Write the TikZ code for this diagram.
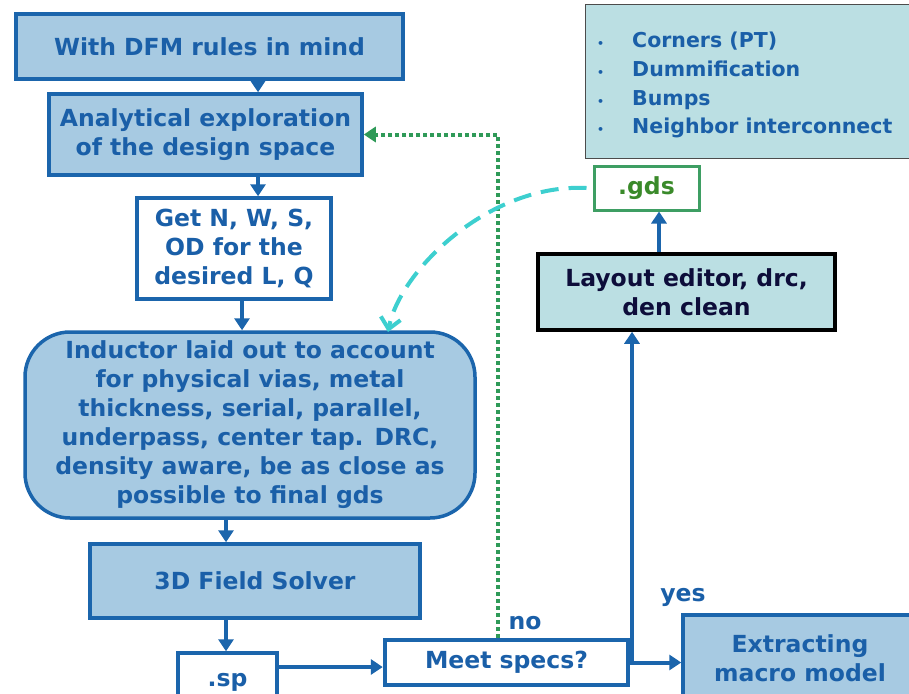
\documentclass[tikz,border=0pt]{standalone}
\usepackage{fontspec}
\setmainfont{DejaVu Sans}
\usetikzlibrary{arrows.meta,calc}
\definecolor{fillblue}{HTML}{A7CAE2}
\definecolor{lineblue}{HTML}{1B65AC}
\definecolor{textblue}{HTML}{1A5FA8}
\definecolor{cyanfill}{HTML}{BBDFE3}
\definecolor{gdsgreen}{HTML}{3A8A2A}
\definecolor{gdsborder}{HTML}{3E9E63}
\definecolor{dotgreen}{HTML}{2F9A58}
\definecolor{dashcyan}{HTML}{3DCFCF}
\definecolor{navy}{HTML}{0D0D3A}
\tikzset{
  txt/.style={font=\fontsize{23.5}{29}\selectfont\bfseries, text=textblue, align=center, inner sep=0pt},
  bluebox/.style={txt, draw=lineblue, line width=3.5pt, fill=fillblue},
  whitebox/.style={txt, draw=lineblue, line width=3.5pt, fill=white},
  arr/.style={draw=lineblue, line width=4pt, -{Triangle[width=15pt,length=12pt]}},
}
\begin{document}
\begin{tikzpicture}[x=1pt,y=-1pt]
\clip (0,0) rectangle (909,693);
\fill[white] (0,0) rectangle (909,693);
% nodes
\node[bluebox, minimum width=387pt, minimum height=65pt] (box1) at (209.5,46.5) {With DFM rules in mind};
\node[bluebox, minimum width=313pt, minimum height=81pt] (box2) at (205.5,134.5) {Analytical exploration\\of the design space};
\node[whitebox, minimum width=194pt, minimum height=101pt] (box3) at (234,248.5) {Get N, W, S,\\OD for the\\desired L, Q};
\node[bluebox, rounded corners=45pt, minimum width=450pt, minimum height=186pt] (ind) at (250,425) {Inductor laid out to account\\for physical vias, metal\\thickness, serial, parallel,\\underpass, center tap. DRC,\\density aware, be as close as\\possible to final gds};
\node[bluebox, minimum width=330pt, minimum height=74pt] (solver) at (255,581) {3D Field Solver};
\node[whitebox, minimum width=99pt, minimum height=54pt, text depth=-12pt] (sp) at (227.5,680) {.sp};
\node[whitebox, line width=4.5pt, minimum width=243pt, minimum height=45pt] (meet) at (506.5,662.5) {Meet specs?};
\node[bluebox, minimum width=234pt, minimum height=86pt] (extract) at (800,658) {Extracting\\macro model};
\node[txt, draw=black, line width=3.5pt, fill=cyanfill, text=navy, minimum width=297pt, minimum height=76pt] (layout) at (686.5,292) {Layout editor, drc,\\den clean};
\node[txt, draw=gdsborder, line width=3pt, fill=white, text=gdsgreen, minimum width=105pt, minimum height=44pt] (gds) at (646.5,188) {.gds};
\node[draw=black!70, line width=1pt, fill=cyanfill, minimum width=330pt, minimum height=153pt] (bul) at (750,81.5) {};
\node[txt, font=\fontsize{20.5}{28.7}\selectfont\bfseries, anchor=west] (bultext) at (597,85) {\begin{tabular}{@{}l@{\hspace{28pt}}l@{}}{\fontsize{11}{11}\selectfont •} & Corners (PT)\\{\fontsize{11}{11}\selectfont •} & Dummification\\{\fontsize{11}{11}\selectfont •} & Bumps\\{\fontsize{11}{11}\selectfont •} & Neighbor interconnect\end{tabular}};
\node[txt] (yes) at (683,597) {yes};
\node[txt] (no) at (525,623) {no};
% helper coordinates
\coordinate (c1) at (258,0);
\coordinate (c3) at (242,0);
\coordinate (c4) at (226,0);
\coordinate (g1) at (498,0);
\coordinate (v1) at (632,0);
\coordinate (h1) at (0,667);
\coordinate (lg) at (659,0);
% connectors
\draw[arr] (c1 |- box1.south) -- (c1 |- box2.north);
\draw[arr] (c1 |- box2.south) -- (c1 |- box3.north);
\draw[arr] (c3 |- box3.south) -- (c3 |- ind.north);
\draw[arr] (c4 |- ind.south) -- (c4 |- solver.north);
\draw[arr] (c4 |- solver.south) -- (c4 |- sp.north);
\draw[arr] (sp.east |- h1) -- (meet.west |- h1);
\draw[arr] (meet.east) -- (extract.west |- meet.east);
\draw[arr] (v1 |- meet.east) -- (v1 |- layout.south);
\draw[arr] (lg |- layout.north) -- (lg |- gds.south);
\draw[draw=dotgreen, line width=4pt, dash pattern=on 4pt off 3pt, -{Triangle[width=15pt,length=12pt]}] (g1 |- meet.north) |- (box2.east);
\draw[draw=dashcyan, line width=4pt, dash pattern=on 18pt off 10pt, -{Straight Barb[length=11pt,width=20pt]}] ([xshift=-6pt]gds.west) .. controls (490,183) and (400,270) .. (388,332);
\end{tikzpicture}
\end{document}
